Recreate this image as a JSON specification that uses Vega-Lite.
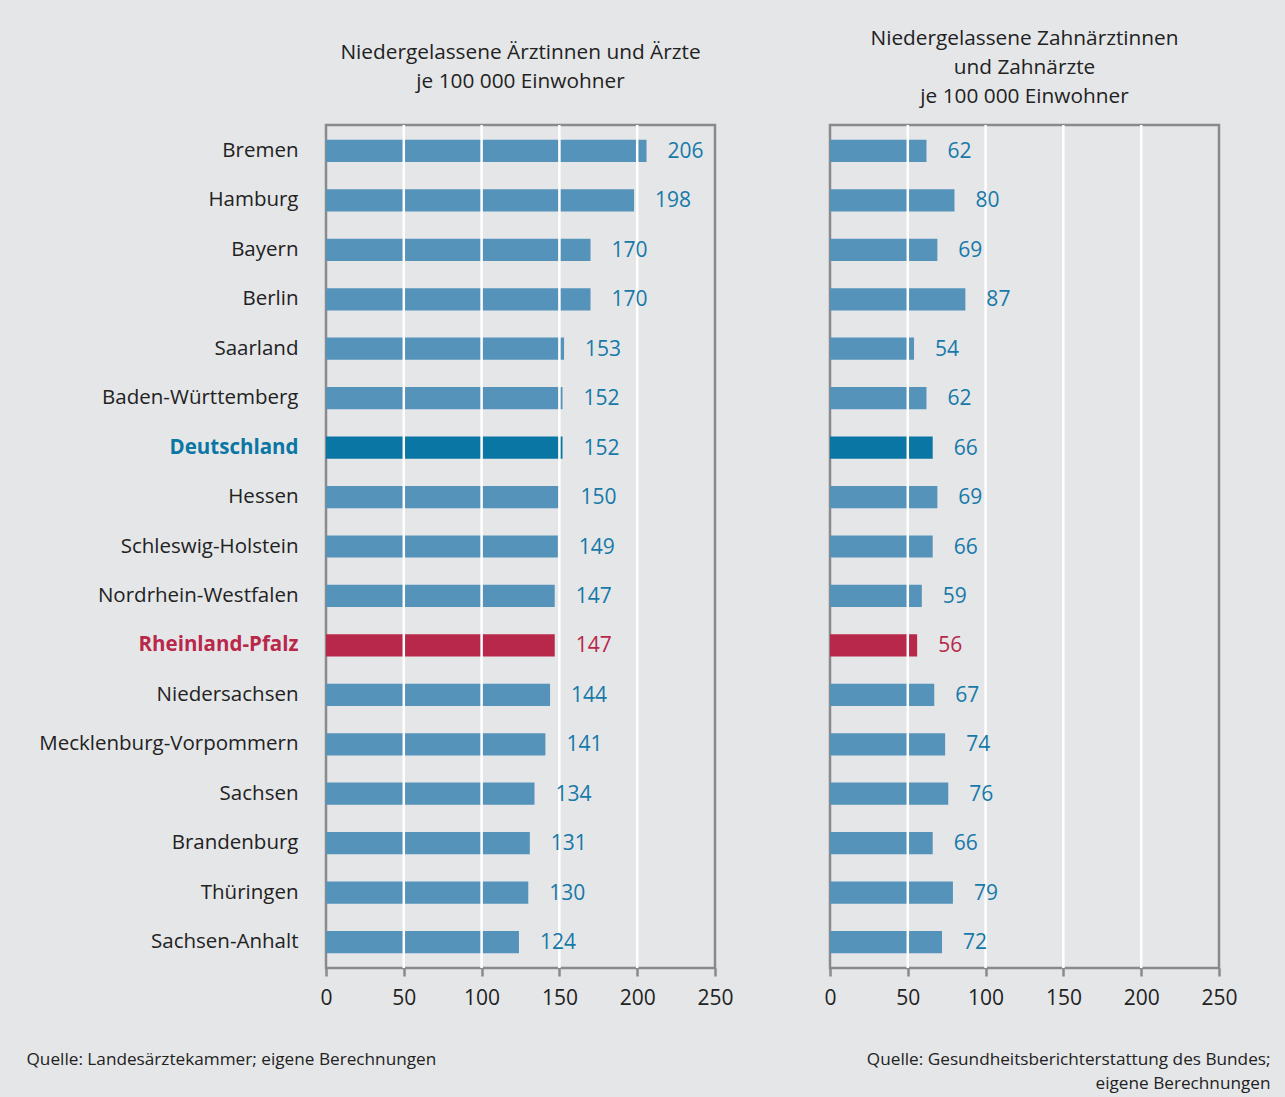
{
  "$schema": "https://vega.github.io/schema/vega-lite/v6.json",
  "background": "#e5e6e8",
  "padding": {"left": 24, "top": 26, "right": 15, "bottom": 8},
  "bounds": "flush",
  "spacing": 115,
  "config": {
    "font": "Open Sans",
    "view": {"stroke": "#8a8a8d", "strokeWidth": 2.5},
    "axis": {"labelFont": "Open Sans", "titleFont": "Open Sans"},
    "title": {"font": "Open Sans"}
  },
  "datasets": {
    "laender": [
      {"land": "Bremen", "aerzte": 206, "zahnaerzte": 62},
      {"land": "Hamburg", "aerzte": 198, "zahnaerzte": 80},
      {"land": "Bayern", "aerzte": 170, "zahnaerzte": 69},
      {"land": "Berlin", "aerzte": 170, "zahnaerzte": 87},
      {"land": "Saarland", "aerzte": 153, "zahnaerzte": 54},
      {"land": "Baden-Württemberg", "aerzte": 152, "zahnaerzte": 62},
      {"land": "Deutschland", "aerzte": 152, "zahnaerzte": 66},
      {"land": "Hessen", "aerzte": 150, "zahnaerzte": 69},
      {"land": "Schleswig-Holstein", "aerzte": 149, "zahnaerzte": 66},
      {"land": "Nordrhein-Westfalen", "aerzte": 147, "zahnaerzte": 59},
      {"land": "Rheinland-Pfalz", "aerzte": 147, "zahnaerzte": 56},
      {"land": "Niedersachsen", "aerzte": 144, "zahnaerzte": 67},
      {"land": "Mecklenburg-Vorpommern", "aerzte": 141, "zahnaerzte": 74},
      {"land": "Sachsen", "aerzte": 134, "zahnaerzte": 76},
      {"land": "Brandenburg", "aerzte": 131, "zahnaerzte": 66},
      {"land": "Thüringen", "aerzte": 130, "zahnaerzte": 79},
      {"land": "Sachsen-Anhalt", "aerzte": 124, "zahnaerzte": 72}
    ],
    "grid": [{"v": 50}, {"v": 100}, {"v": 150}, {"v": 200}]
  },
  "hconcat": [
    {
      "width": 389,
      "height": 843,
      "title": {
        "text": ["Niedergelassene Ärztinnen und Ärzte", "je 100 000 Einwohner"],
        "fontSize": 20.8,
        "fontWeight": "normal",
        "color": "#222222",
        "lineHeight": 29,
        "anchor": "middle",
        "offset": 31
      },
      "layer": [
        {
          "data": {"name": "laender"},
          "mark": {"type": "bar"},
          "encoding": {
            "y": {
              "field": "land",
              "type": "nominal",
              "sort": null,
              "scale": {"paddingInner": 0.55, "paddingOuter": 0.3},
              "axis": {
                "title": null,
                "ticks": false,
                "domain": false,
                "labelPadding": 28,
                "labelFontSize": 20.5,
                "labelLimit": 400,
                "labelColor": {"expr": "datum.value == 'Rheinland-Pfalz' ? '#b8284a' : datum.value == 'Deutschland' ? '#0a76a3' : '#222222'"},
                "labelFontWeight": {"expr": "datum.value == 'Rheinland-Pfalz' || datum.value == 'Deutschland' ? 'bold' : 'normal'"}
              }
            },
            "x": {
              "field": "aerzte",
              "type": "quantitative",
              "scale": {"domain": [0, 250], "nice": false},
              "axis": {
                "values": [0, 50, 100, 150, 200, 250],
                "grid": false,
                "domain": false,
                "tickColor": "#8a8a8d",
                "tickSize": 8,
                "tickWidth": 2.5,
                "labelFontSize": 21,
                "labelColor": "#222222",
                "labelPadding": 11,
                "labelFlush": false,
                "title": "Quelle: Landesärztekammer; eigene Berechnungen",
                "titleFontSize": 17.2,
                "titleFontWeight": "normal",
                "titleColor": "#222222",
                "titleAlign": "left",
                "titleBaseline": "alphabetic",
                "titleX": -300,
                "titleY": 96
              }
            },
            "color": {
              "condition": [
                {"test": "datum.land === 'Rheinland-Pfalz'", "value": "#b8284a"},
                {"test": "datum.land === 'Deutschland'", "value": "#0a76a3"}
              ],
              "value": "#5593bb"
            }
          }
        },
        {
          "data": {"name": "grid"},
          "mark": {"type": "rule", "color": "#ffffff", "strokeWidth": 2.5},
          "encoding": {"x": {"field": "v", "type": "quantitative"}}
        },
        {
          "data": {"name": "laender"},
          "mark": {"type": "text", "align": "left", "baseline": "middle", "dx": 21, "dy": 1, "fontSize": 21},
          "encoding": {
            "y": {"field": "land", "type": "nominal", "sort": null},
            "x": {"field": "aerzte", "type": "quantitative"},
            "text": {"field": "aerzte", "type": "quantitative"},
            "color": {
              "condition": [{"test": "datum.land === 'Rheinland-Pfalz'", "value": "#b8284a"}],
              "value": "#1779a8"
            }
          }
        }
      ]
    },
    {
      "width": 389,
      "height": 843,
      "title": {
        "text": ["Niedergelassene Zahnärztinnen", "und Zahnärzte", "je 100 000 Einwohner"],
        "fontSize": 20.8,
        "fontWeight": "normal",
        "color": "#222222",
        "lineHeight": 29,
        "anchor": "middle",
        "offset": 16
      },
      "layer": [
        {
          "data": {"name": "laender"},
          "mark": {"type": "bar"},
          "encoding": {
            "y": {
              "field": "land",
              "type": "nominal",
              "sort": null,
              "scale": {"paddingInner": 0.55, "paddingOuter": 0.3},
              "axis": null
            },
            "x": {
              "field": "zahnaerzte",
              "type": "quantitative",
              "scale": {"domain": [0, 250], "nice": false},
              "axis": {
                "values": [0, 50, 100, 150, 200, 250],
                "grid": false,
                "domain": false,
                "tickColor": "#8a8a8d",
                "tickSize": 8,
                "tickWidth": 2.5,
                "labelFontSize": 21,
                "labelColor": "#222222",
                "labelPadding": 11,
                "labelFlush": false,
                "title": ["Quelle: Gesundheitsberichterstattung des Bundes;", "eigene Berechnungen"],
                "titleFontSize": 17.2,
                "titleFontWeight": "normal",
                "titleColor": "#222222",
                "titleAlign": "right",
                "titleBaseline": "alphabetic",
                "titleLineHeight": 24,
                "titleX": 440,
                "titleY": 96
              }
            },
            "color": {
              "condition": [
                {"test": "datum.land === 'Rheinland-Pfalz'", "value": "#b8284a"},
                {"test": "datum.land === 'Deutschland'", "value": "#0a76a3"}
              ],
              "value": "#5593bb"
            }
          }
        },
        {
          "data": {"name": "grid"},
          "mark": {"type": "rule", "color": "#ffffff", "strokeWidth": 2.5},
          "encoding": {"x": {"field": "v", "type": "quantitative"}}
        },
        {
          "data": {"name": "laender"},
          "mark": {"type": "text", "align": "left", "baseline": "middle", "dx": 21, "dy": 1, "fontSize": 21},
          "encoding": {
            "y": {"field": "land", "type": "nominal", "sort": null},
            "x": {"field": "zahnaerzte", "type": "quantitative"},
            "text": {"field": "zahnaerzte", "type": "quantitative"},
            "color": {
              "condition": [{"test": "datum.land === 'Rheinland-Pfalz'", "value": "#b8284a"}],
              "value": "#1779a8"
            }
          }
        }
      ]
    }
  ]
}
